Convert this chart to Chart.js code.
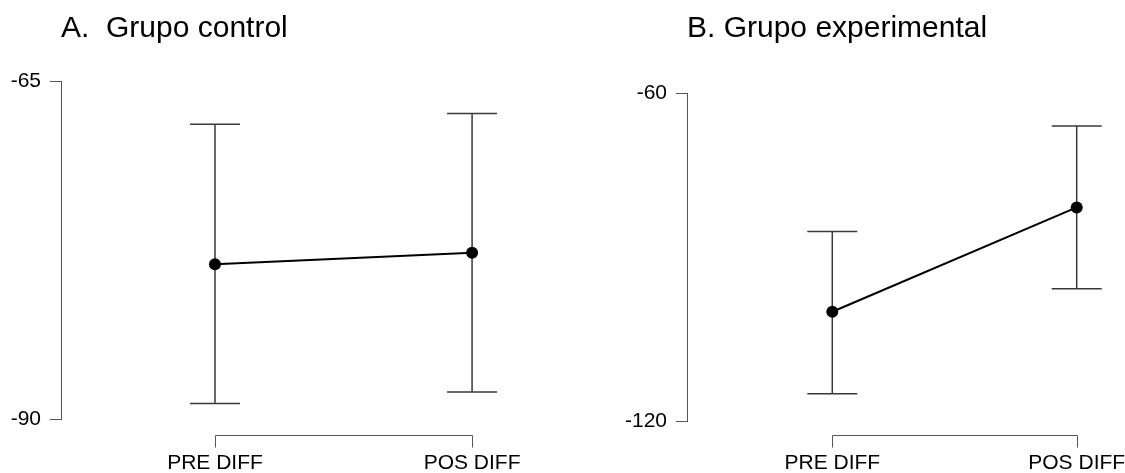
<!DOCTYPE html>
<html>
<head>
<meta charset="utf-8">
<script src="https://cdn.jsdelivr.net/npm/chart.js@4.4.1/dist/chart.umd.min.js"></script>
<style>
    html, body { margin: 0; padding: 0; background: #ffffff; }
    #wrap { position: relative; width: 1125px; height: 473px; }
    .panel { position: absolute; top: 0; height: 473px; }
    #panelA { left: 0; width: 562px; }
    #panelB { left: 562px; width: 563px; }
</style>
</head>
<body>
<div id="wrap">
    <div class="panel" id="panelA"><canvas id="chartA"></canvas></div>
    <div class="panel" id="panelB"><canvas id="chartB"></canvas></div>
</div>
<script>
// Data (means with error-bar ends)
const categories = ['PRE DIFF', 'POS DIFF'];

const controlTitle = 'A.  Grupo control';
const controlMeans = [-78.55, -77.7];
const controlLower = [-88.85, -88.0];
const controlUpper = [-68.2, -67.4];
const controlTicks = [-65, -90];

const expTitle = 'B. Grupo experimental';
const expMeans = [-100.0, -80.9];
const expLower = [-115.0, -95.8];
const expUpper = [-85.3, -66.0];
const expTicks = [-60, -120];

const FONT = "'Liberation Sans', Arial, Helvetica, sans-serif";
const AXIS_GREY = '#555555';

// error bars + x bracket, drawn with the chart's own scales
const errorBarPlugin = {
    id: 'errorBars',
    beforeDatasetsDraw(chart, args, opts) {
        const x = chart.scales.x;
        const y = chart.scales.y;
        const ctx = chart.ctx;
        ctx.save();
        ctx.strokeStyle = '#3a3a3a';
        ctx.lineWidth = 1.5;
        opts.lower.forEach((lo, i) => {
            const px = x.getPixelForValue(i);
            const yLo = y.getPixelForValue(lo);
            const yHi = y.getPixelForValue(opts.upper[i]);
            ctx.beginPath();
            ctx.moveTo(px, yLo);
            ctx.lineTo(px, yHi);
            ctx.moveTo(px - opts.cap, yLo);
            ctx.lineTo(px + opts.cap, yLo);
            ctx.moveTo(px - opts.cap, yHi);
            ctx.lineTo(px + opts.cap, yHi);
            ctx.stroke();
        });
        ctx.restore();
    },
    afterDraw(chart, args, opts) {
        const x = chart.scales.x;
        const ctx = chart.ctx;
        const x0 = Math.round(x.getPixelForValue(0)) + 0.5;
        const x1 = Math.round(x.getPixelForValue(categories.length - 1)) + 0.5;
        const by = Math.round(x.top + opts.bracketGap) + 0.5;
        ctx.save();
        ctx.strokeStyle = AXIS_GREY;
        ctx.lineWidth = 1;
        ctx.beginPath();
        ctx.moveTo(x0, by + 12);
        ctx.lineTo(x0, by);
        ctx.lineTo(x1, by);
        ctx.lineTo(x1, by + 12);
        ctx.stroke();
        ctx.restore();
    }
};

function makePanel(canvasId, p) {
    const ctx = document.getElementById(canvasId);
    return new Chart(ctx, {
        type: 'line',
        data: {
            datasets: [{
                data: p.means.map((m, i) => ({ x: i, y: m })),
                borderColor: '#000000',
                borderWidth: 2,
                tension: 0,
                pointRadius: 6,
                pointBackgroundColor: '#000000',
                pointBorderColor: '#000000',
                pointBorderWidth: 0,
                fill: false
            }]
        },
        plugins: [errorBarPlugin],
        options: {
            responsive: true,
            maintainAspectRatio: false,
            animation: false,
            layout: { padding: { left: 0, right: p.padRight, top: 0, bottom: 0 } },
            plugins: {
                legend: { display: false },
                tooltip: { enabled: false },
                title: {
                    display: true,
                    text: p.title,
                    align: 'start',
                    fullSize: false,
                    color: '#000000',
                    font: { family: FONT, size: 30, weight: 'normal' },
                    padding: { top: 11, bottom: p.titleGap }
                },
                errorBars: {
                    lower: p.lower,
                    upper: p.upper,
                    cap: 25,
                    bracketGap: p.bracketGap
                }
            },
            scales: {
                x: {
                    type: 'linear',
                    min: p.xMin,
                    max: p.xMax,
                    grid: { display: false, drawTicks: false },
                    border: { display: false },
                    afterBuildTicks: (scale) => {
                        scale.ticks = categories.map((_, i) => ({ value: i }));
                    },
                    afterFit: (scale) => {
                        scale.height = p.xHeight;
                        scale.paddingLeft = 0;
                        scale.paddingRight = 0;
                    },
                    ticks: {
                        autoSkip: false,
                        maxRotation: 0,
                        padding: p.labelPad,
                        color: '#000000',
                        font: { family: FONT, size: 21 },
                        callback: (value) => categories[value]
                    }
                },
                y: {
                    min: p.ticks[1],
                    max: p.ticks[0],
                    afterBuildTicks: (scale) => {
                        scale.ticks = p.ticks.map(v => ({ value: v }));
                    },
                    afterFit: (scale) => {
                        scale.width = p.yWidth;
                    },
                    grid: {
                        display: true,
                        drawOnChartArea: false,
                        drawTicks: true,
                        tickLength: 11,
                        color: AXIS_GREY,
                        lineWidth: 1
                    },
                    border: { display: true, color: AXIS_GREY, width: 1 },
                    ticks: {
                        padding: 9,
                        color: '#000000',
                        font: { family: FONT, size: 21 }
                    }
                }
            }
        }
    });
}

document.addEventListener('DOMContentLoaded', function() {
    makePanel('chartA', {
        title: controlTitle,
        means: controlMeans, lower: controlLower, upper: controlUpper,
        ticks: controlTicks,
        xMin: -0.599, xMax: 1.272,
        padRight: 20, yWidth: 61, xHeight: 54,
        titleGap: 34, labelPad: 32, bracketGap: 16
    });
    makePanel('chartB', {
        title: expTitle,
        means: expMeans, lower: expLower, upper: expUpper,
        ticks: expTicks,
        xMin: -0.5945, xMax: 1.1567,
        padRight: 10, yWidth: 125, xHeight: 52,
        titleGap: 46.3, labelPad: 30, bracketGap: 14
    });
});
</script>
</body>
</html>
